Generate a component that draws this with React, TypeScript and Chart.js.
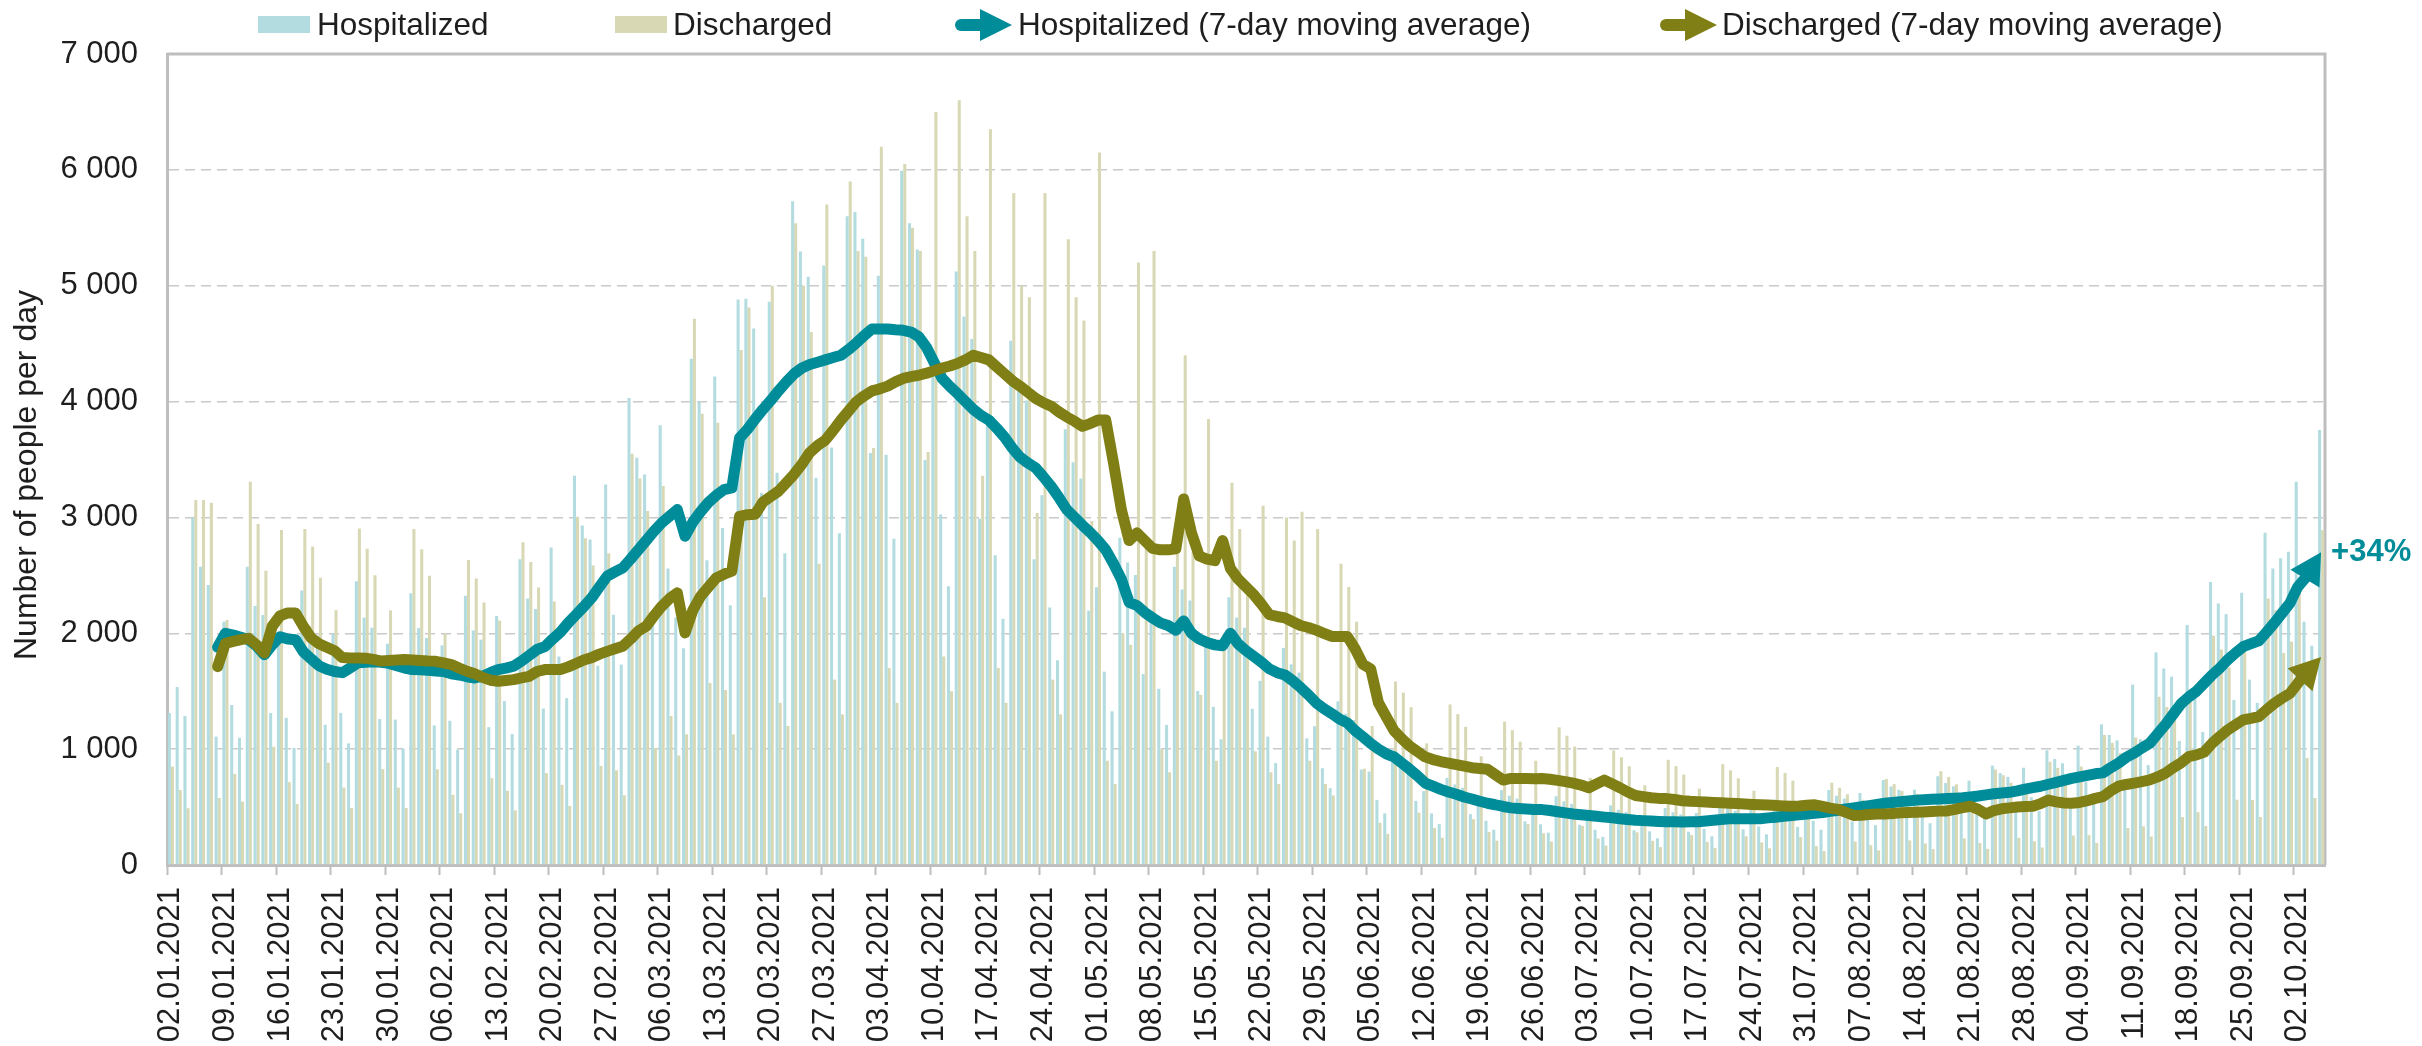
import React, { useEffect, useRef } from 'react';
import { Chart, registerables } from 'chart.js';

Chart.register(...registerables);

// ---------- data ----------
const FIRST_DAY = '2021-01-02';
const DAY_COUNT = 277;
const LABEL_EVERY = 7;
const MA_START = 6;

const SERIES_NAMES = [
  'Hospitalized',
  'Discharged',
  'Hospitalized (7-day moving average)',
  'Discharged (7-day moving average)',
];
const Y_TITLE = 'Number of people per day';
const CHANGE_LABEL = '+34%';
const Y_MIN = 0;
const Y_MAX = 7000;
const Y_STEP = 1000;

const HOSPITALIZED = [
  1312, 1536, 1286, 2995, 2575, 2417, 1108,
  2100, 1381, 1099, 2575, 2235, 2158, 1312,
  1930, 1270, 1010, 2370, 2060, 1980, 1210,
  1995, 1313, 1050, 2450, 2135, 2048, 1260,
  1910, 1255, 1005, 2345, 2045, 1960, 1205,
  1895, 1245, 995, 2325, 2025, 1945, 1190,
  2150, 1415, 1130, 2640, 2300, 2210, 1350,
  2740, 1800, 1440, 3360, 2930, 2810, 1720,
  3285, 2160, 1730, 4030, 3515, 3370, 2070,
  3796, 2559, 2136, 1870, 4369, 4000, 2630,
  4216, 2909, 2241, 4880, 4887, 4630, 3211,
  4861, 3385, 2691, 5729, 5295, 5078, 3342,
  5174, 3604, 2864, 5600, 5636, 5405, 3557,
  5085, 3541, 2815, 5993, 5539, 5312, 3496,
  4346, 3026, 2406, 5122, 4734, 4540, 2988,
  3838, 2673, 2125, 4524, 4181, 4010, 2639,
  3192, 2223, 1767, 3762, 3477, 3335, 2195,
  2397, 1669, 1327, 2825, 2611, 2504, 1648,
  2184, 1521, 1209, 2574, 2379, 2282, 1502,
  1960, 1365, 1085, 2310, 2135, 2048, 1348,
  1590, 1108, 880, 1874, 1732, 1661, 1093,
  1198, 835, 663, 1412, 1305, 1252, 824,
  806, 562, 446, 950, 878, 842, 554,
  638, 445, 353, 752, 695, 667, 439,
  549, 382, 304, 647, 598, 573, 377,
  504, 351, 279, 594, 549, 527, 347,
  437, 304, 242, 515, 476, 456, 300,
  418, 291, 231, 492, 455, 436, 287,
  448, 312, 248, 528, 488, 468, 308,
  478, 333, 265, 564, 521, 500, 329,
  549, 382, 304, 647, 598, 573, 377,
  622, 433, 344, 733, 677, 649, 427,
  650, 452, 360, 766, 708, 679, 447,
  728, 507, 403, 858, 793, 761, 501,
  840, 585, 465, 990, 915, 878, 578,
  1030, 718, 570, 1214, 1122, 1076, 708,
  1557, 1084, 862, 1835, 1696, 1626, 1070,
  2072, 1443, 1147, 2442, 2257, 2165, 1425,
  2350, 1600, 1400, 2868, 2560, 2647, 2704,
  3308, 2100, 1893, 3755,
];

const DISCHARGED = [
  849, 647, 490, 3150, 3150, 3127, 578,
  2115, 785, 547, 3308, 2943, 2540, 1021,
  2891, 715, 527, 2900, 2750, 2480, 883,
  2200, 668, 493, 2905, 2730, 2500, 827,
  2198, 668, 492, 2900, 2725, 2497, 826,
  1995, 606, 447, 2632, 2473, 2266, 750,
  2110, 641, 472, 2785, 2615, 2396, 793,
  2275, 692, 510, 3005, 2820, 2585, 855,
  2690, 817, 602, 3550, 3335, 3055, 1010,
  3271, 1286, 945, 1128, 4714, 3895, 1570,
  3817, 1510, 1127, 4446, 4812, 3916, 2312,
  5000, 1400, 1200, 5540, 5000, 4600, 2600,
  5700, 1600, 1300, 5900, 5300, 5251, 3600,
  6200, 1700, 1400, 6050, 5500, 5300, 3565,
  6500, 1800, 1500, 6600, 5600, 5300, 3360,
  6350, 1700, 1400, 5800, 5000, 4900, 3039,
  5800, 1600, 1300, 5400, 4900, 4700, 2970,
  6150, 900, 700, 2000, 1900, 5200, 2750,
  5300, 1000, 800, 3000, 4400, 2700, 1469,
  3850, 900, 2000, 3300, 2900, 2400, 981,
  3100, 800, 700, 3000, 2800, 3050, 900,
  2900, 700, 600, 2600, 2400, 2100, 831,
  1200, 365, 269, 1584, 1488, 1363, 451,
  1050, 319, 235, 1386, 1302, 1193, 395,
  938, 285, 210, 1238, 1163, 1065, 353,
  900, 274, 202, 1188, 1116, 1022, 338,
  750, 228, 168, 990, 930, 852, 282,
  688, 209, 154, 908, 853, 781, 259,
  659, 200, 148, 870, 817, 748, 248,
  641, 195, 144, 846, 795, 728, 241,
  538, 163, 120, 710, 667, 611, 202,
  563, 171, 126, 743, 698, 639, 212,
  613, 186, 137, 809, 760, 696, 230,
  625, 190, 140, 825, 775, 710, 235,
  675, 205, 151, 891, 837, 767, 254,
  850, 258, 190, 1122, 1054, 966, 320,
  1100, 334, 246, 1452, 1364, 1250, 414,
  1500, 456, 336, 1980, 1860, 1704, 564,
  1850, 562, 414, 2300, 2200, 1830, 1927,
  2347, 923, 578, 2890,
];

// 7-day moving averages, starting at day index 6 (08.01.2021)
const HOSPITALIZED_MA = [
  1880, 2000, 1985, 1965, 1945, 1890, 1815, 1900, 1970, 1950,
  1945, 1840, 1780, 1720, 1690, 1670, 1660, 1700, 1745, 1750,
  1755, 1750, 1740, 1720, 1700, 1687, 1685, 1680, 1675, 1670,
  1650, 1640, 1625, 1614, 1630, 1660, 1687, 1700, 1716, 1760,
  1810, 1860, 1885, 1950, 2010, 2090, 2160, 2230, 2305, 2400,
  2493, 2530, 2565, 2640, 2720, 2800, 2880, 2953, 3010, 3068,
  2838, 2960, 3050, 3130, 3190, 3240, 3255, 3686, 3760, 3850,
  3933, 4010, 4093, 4170, 4240, 4290, 4320, 4340, 4360, 4380,
  4400, 4450, 4507, 4570, 4627, 4627, 4627, 4620, 4615, 4600,
  4560, 4467, 4333, 4200, 4130, 4067, 4000, 3933, 3880, 3840,
  3770, 3693, 3600, 3520, 3470, 3427, 3350, 3267, 3170, 3067,
  3000, 2933, 2870, 2800, 2720, 2600, 2467, 2267, 2240, 2180,
  2133, 2090, 2067, 2027, 2107, 2000, 1950, 1920, 1900, 1893,
  2000, 1907, 1850, 1800, 1750, 1693, 1660, 1640, 1590, 1533,
  1470, 1400, 1350, 1307, 1260, 1227, 1160, 1107, 1050, 1000,
  960, 933, 880, 827, 770, 707, 680, 653, 630, 610,
  587, 570, 550, 533, 520, 505, 493, 488, 484, 480,
  478, 470, 460, 450, 440, 433, 427, 420, 413, 407,
  400, 393, 387, 383, 380, 376, 373, 373, 372, 373,
  373, 380, 387, 393, 400, 400, 400, 400, 400, 407,
  413, 420, 427, 433, 440, 447, 453, 463, 473, 483,
  493, 503, 513, 523, 533, 540, 547, 553, 560, 563,
  567, 570, 573, 577, 580, 587, 595, 605, 615, 622,
  627, 640, 655, 668, 680, 697, 713, 730, 747, 760,
  773, 787, 795, 840, 880, 930, 966, 1010, 1050, 1130,
  1210, 1300, 1390, 1450, 1500, 1570, 1640, 1700, 1770, 1830,
  1884, 1910, 1935, 2010, 2090, 2175, 2260, 2400, 2480, 2580,
  2700,
];

const DISCHARGED_MA = [
  1712, 1913, 1930, 1945, 1956, 1900, 1830, 2060, 2150, 2176,
  2176, 2060, 1960, 1910, 1880, 1850, 1790, 1787, 1787, 1785,
  1775, 1760, 1765, 1770, 1773, 1770, 1765, 1760, 1758, 1745,
  1730, 1700, 1672, 1650, 1620, 1595, 1586, 1593, 1600, 1615,
  1629, 1670, 1687, 1687, 1687, 1710, 1740, 1770, 1790, 1820,
  1844, 1866, 1888, 1950, 2020, 2060, 2150, 2233, 2300, 2349,
  2003, 2200, 2320, 2400, 2478, 2510, 2536, 3010, 3024, 3027,
  3133, 3180, 3227, 3300, 3373, 3460, 3560, 3620, 3667, 3750,
  3840, 3920, 4000, 4050, 4093, 4110, 4133, 4170, 4200, 4215,
  4227, 4245, 4267, 4290, 4307, 4330, 4360, 4400, 4380, 4360,
  4300, 4240, 4180, 4133, 4080, 4027, 3990, 3960, 3910, 3867,
  3830, 3787, 3810, 3840, 3840, 3467, 3067, 2800, 2867, 2800,
  2733, 2720, 2720, 2730, 3160, 2867, 2667, 2640, 2627, 2800,
  2560, 2467, 2400, 2333, 2250, 2160, 2145, 2133, 2100, 2067,
  2050, 2027, 2000, 1973, 1973, 1973, 1867, 1733, 1693, 1400,
  1280, 1160, 1090, 1027, 980, 933, 910, 893, 880, 867,
  853, 840, 833, 827, 780, 733, 747, 747, 747, 745,
  747, 740, 730, 720, 707, 690, 667, 700, 733, 700,
  667, 630, 600, 590, 580, 575, 573, 565, 555, 550,
  547, 543, 540, 537, 533, 530, 527, 523, 520, 517,
  513, 510, 507, 510, 515, 520, 505, 490, 480, 455,
  427, 430, 435, 440, 440, 445, 450, 453, 455, 458,
  462, 465, 467, 480, 495, 507, 480, 440, 470, 485,
  493, 500, 505, 507, 530, 560, 545, 535, 533, 540,
  555, 575, 590, 640, 680, 695, 707, 720, 734, 760,
  792, 840, 880, 935, 950, 975, 1050, 1110, 1165, 1210,
  1252, 1265, 1280, 1340, 1395, 1440, 1482, 1568, 1650, 1720,
  1795,
];

// ---------- styles ----------
const FONT = "'Liberation Sans', Arial, Helvetica, sans-serif";
const TEXT = '#1e1e1e';
const HOSP_BAR = '#B3DCE0';
const DISCH_BAR = '#D8D8B5';
const HOSP_LINE = '#008C99';
const DISCH_LINE = '#807F16';
const AXIS = '#BEBEBE';
const GRID = '#CACACA';
const LINE_WIDTH = 11;
const HIDDEN_SEGMENTS = 2;
const ARROW_LEN = 31;
const ARROW_HALF = 17;

function makeDates(): string[] {
  const out: string[] = [];
  const d = new Date(FIRST_DAY + 'T00:00:00Z');
  for (let i = 0; i < DAY_COUNT; i++) {
    const dd = String(d.getUTCDate()).padStart(2, '0');
    const mm = String(d.getUTCMonth() + 1).padStart(2, '0');
    out.push(`${dd}.${mm}.${d.getUTCFullYear()}`);
    d.setUTCDate(d.getUTCDate() + 1);
  }
  return out;
}

function fmtThousands(v: number): string {
  return String(v).replace(/\B(?=(\d{3})+(?!\d))/g, ' ');
}

const legendPlugin = {
  id: 'customLegend',
  afterDraw(chart: any) {
    const ctx = chart.ctx as CanvasRenderingContext2D;
    const items = [
      { kind: 'box', color: HOSP_BAR, x: 258, tx: 317, text: SERIES_NAMES[0] },
      { kind: 'box', color: DISCH_BAR, x: 615, tx: 673, text: SERIES_NAMES[1] },
      { kind: 'arrow', color: HOSP_LINE, x: 955, tx: 1018, text: SERIES_NAMES[2] },
      { kind: 'arrow', color: DISCH_LINE, x: 1660, tx: 1722, text: SERIES_NAMES[3] },
    ];
    const cy = 25;
    ctx.save();
    for (const it of items) {
      ctx.fillStyle = it.color;
      ctx.strokeStyle = it.color;
      if (it.kind === 'box') {
        ctx.fillRect(it.x, cy - 9, 52, 17);
      } else {
        ctx.lineWidth = 12;
        ctx.lineCap = 'round';
        ctx.beginPath();
        ctx.moveTo(it.x + 6, cy);
        ctx.lineTo(it.x + 27, cy);
        ctx.stroke();
        ctx.beginPath();
        ctx.moveTo(it.x + 25, cy - 16);
        ctx.lineTo(it.x + 57, cy);
        ctx.lineTo(it.x + 25, cy + 16);
        ctx.closePath();
        ctx.fill();
      }
      ctx.fillStyle = TEXT;
      ctx.font = `31.5px ${FONT}`;
      ctx.textBaseline = 'middle';
      ctx.textAlign = 'left';
      ctx.fillText(it.text, it.tx, cy + 1);
    }
    ctx.restore();
  },
};

const yTitlePlugin = {
  id: 'yTitle',
  afterDraw(chart: any) {
    const ctx = chart.ctx as CanvasRenderingContext2D;
    ctx.save();
    ctx.translate(27, 475);
    ctx.rotate(-Math.PI / 2);
    ctx.font = `32px ${FONT}`;
    ctx.fillStyle = TEXT;
    ctx.textAlign = 'center';
    ctx.textBaseline = 'middle';
    ctx.fillText(Y_TITLE, 0, 0);
    ctx.restore();
  },
};

const framePlugin = {
  id: 'frame',
  beforeDatasetsDraw(chart: any) {
    const { ctx, chartArea } = chart;
    ctx.save();
    ctx.strokeStyle = AXIS;
    ctx.lineWidth = 3;
    ctx.beginPath();
    ctx.moveTo(chartArea.left, chartArea.top);
    ctx.lineTo(chartArea.right, chartArea.top);
    ctx.lineTo(chartArea.right, chartArea.bottom);
    ctx.stroke();
    ctx.restore();
  },
};

const arrowPlugin = {
  id: 'maArrows',
  afterDatasetsDraw(chart: any) {
    const ctx = chart.ctx as CanvasRenderingContext2D;
    const drawArrow = (di: number, color: string, label?: string) => {
      const pts = chart.getDatasetMeta(di).data;
      const n = pts.length;
      const tip = pts[n - 1];
      const ref = pts[n - 1 - HIDDEN_SEGMENTS];
      const ang = Math.atan2(tip.y - ref.y, tip.x - ref.x);
      const c = Math.cos(ang);
      const s = Math.sin(ang);
      const bx = tip.x - ARROW_LEN * c;
      const by = tip.y - ARROW_LEN * s;
      ctx.save();
      ctx.strokeStyle = color;
      ctx.fillStyle = color;
      ctx.lineWidth = LINE_WIDTH;
      ctx.lineCap = 'butt';
      ctx.beginPath();
      ctx.moveTo(ref.x, ref.y);
      ctx.lineTo(bx + 4 * c, by + 4 * s);
      ctx.stroke();
      ctx.beginPath();
      ctx.moveTo(tip.x, tip.y);
      ctx.lineTo(bx - ARROW_HALF * s, by + ARROW_HALF * c);
      ctx.lineTo(bx + ARROW_HALF * s, by - ARROW_HALF * c);
      ctx.closePath();
      ctx.fill();
      if (label) {
        ctx.font = `bold 31px ${FONT}`;
        ctx.textAlign = 'left';
        ctx.textBaseline = 'middle';
        ctx.fillText(label, tip.x + 10, tip.y);
      }
      ctx.restore();
    };
    drawArrow(2, HOSP_LINE, CHANGE_LABEL);
    drawArrow(3, DISCH_LINE);
  },
};

export default function App() {
  const canvasRef = useRef<HTMLCanvasElement | null>(null);

  useEffect(() => {
    document.body.style.margin = '0';
    const canvas = canvasRef.current;
    if (!canvas) return;
    Chart.defaults.font.family = FONT;
    Chart.defaults.color = TEXT;

    const labels = makeDates();
    const pad = (arr: number[]) => (Array(MA_START).fill(null) as (number | null)[]).concat(arr);
    const lastIdx = DAY_COUNT - 1;
    const hideTail = (color: string) => ({
      borderColor: (ctx: any) => (ctx.p1DataIndex > lastIdx - HIDDEN_SEGMENTS ? 'rgba(0,0,0,0)' : color),
    });

    const lineCommon = {
      type: 'line' as const,
      borderWidth: LINE_WIDTH,
      pointRadius: 0,
      pointHoverRadius: 0,
      tension: 0,
      fill: false,
      borderCapStyle: 'round' as const,
      borderJoinStyle: 'round' as const,
    };

    const chart = new Chart(canvas, {
      type: 'bar',
      data: {
        labels,
        datasets: [
          {
            label: SERIES_NAMES[0],
            data: HOSPITALIZED,
            backgroundColor: HOSP_BAR,
            borderWidth: 0,
            barPercentage: 1,
            categoryPercentage: 0.78,
            order: 3,
          },
          {
            label: SERIES_NAMES[1],
            data: DISCHARGED,
            backgroundColor: DISCH_BAR,
            borderWidth: 0,
            barPercentage: 1,
            categoryPercentage: 0.78,
            order: 3,
          },
          {
            ...lineCommon,
            label: SERIES_NAMES[2],
            data: pad(HOSPITALIZED_MA),
            borderColor: HOSP_LINE,
            segment: hideTail(HOSP_LINE),
            order: 1,
          } as any,
          {
            ...lineCommon,
            label: SERIES_NAMES[3],
            data: pad(DISCHARGED_MA),
            borderColor: DISCH_LINE,
            segment: hideTail(DISCH_LINE),
            order: 0,
          } as any,
        ],
      },
      options: {
        responsive: false,
        animation: false,
        events: [],
        layout: { padding: { top: 54, right: 97, bottom: 0, left: 0 } },
        plugins: {
          legend: { display: false },
          tooltip: { enabled: false },
          title: { display: false },
        },
        scales: {
          x: {
            offset: true,
            grid: {
              display: true,
              offset: true,
              drawOnChartArea: false,
              drawTicks: true,
              tickLength: 10,
              tickWidth: 2,
              tickColor: (c: any) => (c.index % LABEL_EVERY === 0 ? AXIS : 'rgba(0,0,0,0)'),
            },
            border: { display: true, color: AXIS, width: 3 },
            ticks: {
              autoSkip: false,
              maxRotation: 90,
              minRotation: 90,
              padding: 12,
              color: TEXT,
              font: { size: 31 },
              callback: function (this: any, v: any, i: number) {
                return i % LABEL_EVERY === 0 ? this.getLabelForValue(v) : '';
              },
            },
            afterFit: (s: any) => {
              s.height = 181;
            },
          },
          y: {
            min: Y_MIN,
            max: Y_MAX,
            grid: {
              color: (c: any) =>
                c.tick && (c.tick.value === Y_MIN || c.tick.value === Y_MAX) ? 'rgba(0,0,0,0)' : GRID,
              lineWidth: 1.5,
              drawTicks: false,
            },
            border: { display: true, color: AXIS, width: 3, dash: [10, 6] },
            ticks: {
              stepSize: Y_STEP,
              padding: 29,
              color: TEXT,
              font: { size: 31 },
              callback: (v: any) => fmtThousands(Number(v)),
            },
            title: { display: false },
            afterFit: (s: any) => {
              s.width = 167;
            },
          },
        },
      },
      plugins: [framePlugin, arrowPlugin, legendPlugin, yTitlePlugin],
    });

    return () => chart.destroy();
  }, []);

  return (
    <div style={{ width: 2422, height: 1046 }}>
      <canvas ref={canvasRef} width={2422} height={1046} style={{ display: 'block' }} />
    </div>
  );
}
